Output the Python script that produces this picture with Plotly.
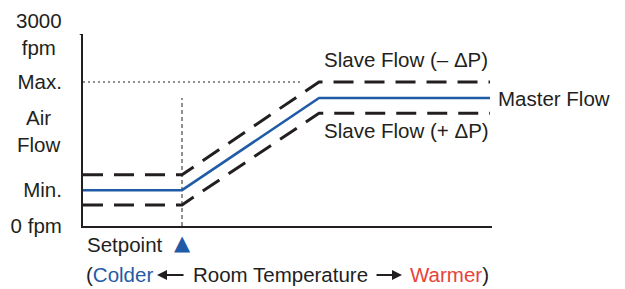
import plotly.graph_objects as go

# Data (x: relative room-temperature position, y: air flow in fpm)
temp_pos = [0, 99, 236, 407]
master_flow = [560, 560, 2000, 2000]
slave_minus_dp = [800, 800, 2250, 2250]
slave_plus_dp = [330, 330, 1760, 1760]

setpoint_x = 99
max_flow = 2250
max_line_end = 217
setpoint_line_top = 2000

# single-line y tick labels (right aligned) and two-line ones (centered)
y_tickvals = [0, 560, 2250]
y_ticktext = ["0 fpm", "Min.", "Max."]
y_block_vals = [1480, 3000]
y_block_text = ["Air<br>Flow", "3000<br>fpm"]

series_labels = ["Slave Flow (– ΔP)", "Master Flow", "Slave Flow (+ ΔP)"]
x_caption = ["(", "Colder", "Room Temperature", "Warmer", ")"]

BLUE = "#1f5ba6"
RED = "#e8433a"
INK = "#231f20"
FONT = "Liberation Sans, Arial, sans-serif"
FS = 20.5

X_MAX = 409
fig = go.Figure()

# reference dotted lines
fig.add_trace(go.Scatter(x=[0, max_line_end], y=[max_flow, max_flow], mode="lines",
                         line=dict(color=INK, width=1, dash="2px,3px"), hoverinfo="skip"))
fig.add_trace(go.Scatter(x=[setpoint_x, setpoint_x], y=[0, setpoint_line_top], mode="lines",
                         line=dict(color=INK, width=1, dash="4px,3px"), hoverinfo="skip"))

fig.add_trace(go.Scatter(x=temp_pos, y=slave_minus_dp, mode="lines",
                         line=dict(color=INK, width=3, dash="20px,11px"), name=series_labels[0]))
fig.add_trace(go.Scatter(x=temp_pos, y=slave_plus_dp, mode="lines",
                         line=dict(color=INK, width=3, dash="20px,11px"), name=series_labels[2]))
fig.add_trace(go.Scatter(x=temp_pos, y=master_flow, mode="lines",
                         line=dict(color=BLUE, width=2.5), name=series_labels[1]))

font = dict(family=FONT, size=FS, color=INK)

for v, t in zip(y_block_vals, y_block_text):
    fig.add_annotation(xref="paper", yref="y", x=-0.1076, y=v, text=t, align="center",
                       showarrow=False, font=font, xanchor="center", yanchor="middle")

fig.add_annotation(x=323, y=2600, text=series_labels[0], showarrow=False, font=font,
                   xanchor="center", yanchor="middle")
fig.add_annotation(xref="paper", x=1.01, y=2000, text=series_labels[1], showarrow=False,
                   font=font, xanchor="left", yanchor="middle")
fig.add_annotation(x=323, y=1500, text=series_labels[2], showarrow=False, font=font,
                   xanchor="center", yanchor="middle")

fig.add_annotation(xref="paper", yref="paper", x=0.2005, y=-0.094, text="Setpoint",
                   showarrow=False, font=font, xanchor="right", yanchor="middle")
fig.add_annotation(xref="paper", yref="paper", x=setpoint_x / X_MAX, y=-0.09, text="▲",
                   showarrow=False, font=dict(family="DejaVu Sans", size=21, color=BLUE),
                   xanchor="center", yanchor="middle")

# bottom caption
cap_y = -0.255
fig.add_annotation(xref="paper", yref="paper", x=0.176, y=cap_y,
                   text="%s<span style='color:%s'>%s</span>" % (x_caption[0], BLUE, x_caption[1]),
                   showarrow=False, font=font, xanchor="right", yanchor="middle")
fig.add_annotation(xref="paper", yref="paper", x=0.483, y=cap_y, text=x_caption[2],
                   showarrow=False, font=font, xanchor="center", yanchor="middle")
fig.add_annotation(xref="paper", yref="paper", x=0.795, y=cap_y,
                   text="<span style='color:%s'>%s</span>%s" % (RED, x_caption[3], x_caption[4]),
                   showarrow=False, font=font, xanchor="left", yanchor="middle")
# arrows
fig.add_annotation(xref="paper", yref="paper", x=0.181, y=cap_y, ax=28, ay=0, text="",
                   showarrow=True, arrowhead=2, arrowsize=1, arrowwidth=2, arrowcolor=INK)
fig.add_annotation(xref="paper", yref="paper", x=0.780, y=cap_y, ax=-27, ay=0, text="",
                   showarrow=True, arrowhead=2, arrowsize=1, arrowwidth=2, arrowcolor=INK)

# top tick stub on y axis
fig.add_shape(type="line", xref="paper", yref="y", x0=-0.008, x1=0, y0=3000, y1=3000,
              line=dict(color=INK, width=2))

# the page body adds an 8px offset; figure sized to compensate
fig.update_layout(
    width=617, height=281,
    margin=dict(l=75, r=133, t=26, b=63),
    paper_bgcolor="white", plot_bgcolor="white",
    showlegend=False,
    font=font,
    xaxis=dict(range=[0, X_MAX], showline=True, linecolor=INK, linewidth=2,
               showgrid=False, zeroline=False, showticklabels=False, ticks="",
               automargin=False),
    yaxis=dict(range=[0, 3000], showline=True, linecolor=INK, linewidth=2,
               showgrid=False, zeroline=False, ticks="", automargin=False,
               tickvals=y_tickvals, ticktext=y_ticktext,
               tickfont=dict(family=FONT, size=FS, color=INK),
               ticklabelstandoff=15),
)

fig.write_html("out.html")
